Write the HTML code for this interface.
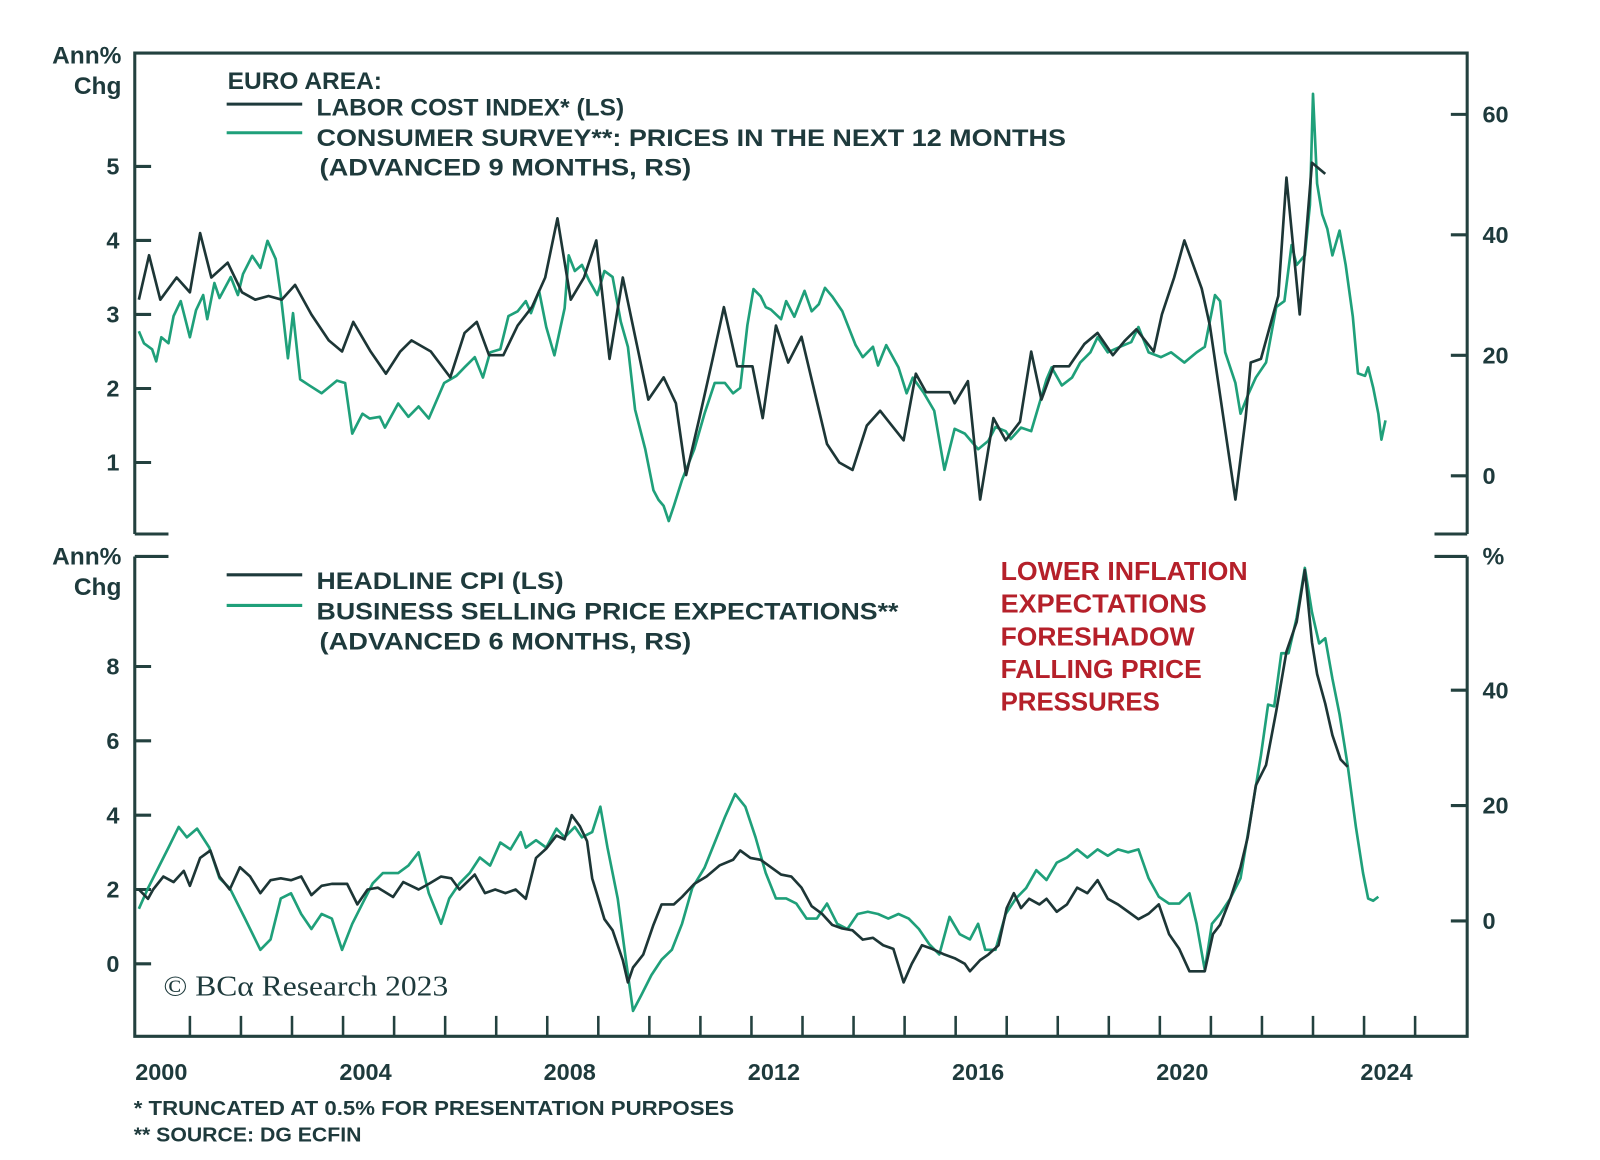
<!DOCTYPE html>
<html><head><meta charset="utf-8"><style>
html,body{margin:0;padding:0;background:#fff;}
svg{display:block;font-family:"Liberation Sans",sans-serif;}
.t{fill:#1e3a3c;font-weight:bold;}
</style></head><body>
<svg id="chart" width="1600" height="1160" viewBox="0 0 1600 1160" xmlns="http://www.w3.org/2000/svg">
<g transform="scale(1.021)">
<g id="frame" stroke="#23413f" stroke-width="3" fill="none">
 <path d="M132,523 L132,52 L1437,52 L1437,523"/>
 <path d="M132,523 L165,523 M1405,523 L1437,523"/>
 <path d="M132,545 L165,545 M1405,545 L1437,545"/>
 <path d="M132,545 L132,1015 L1437,1015 L1437,545"/>
</g>
<g id="axes"></g>
<g id="series"></g>
<g>
 <text class="t" x="223" y="87" font-size="24">EURO AREA:</text>
 <line x1="222" y1="102" x2="296" y2="102" stroke="#1e3a3c" stroke-width="3"/>
 <text class="t" x="310" y="113" font-size="24">LABOR COST INDEX* (LS)</text>
 <line x1="222" y1="130" x2="296" y2="130" stroke="#1fa07a" stroke-width="3"/>
 <text class="t" x="310" y="143" font-size="24" textLength="734" lengthAdjust="spacingAndGlyphs">CONSUMER SURVEY**: PRICES IN THE NEXT 12 MONTHS</text>
 <text class="t" x="313" y="172" font-size="24" textLength="364" lengthAdjust="spacingAndGlyphs">(ADVANCED 9 MONTHS, RS)</text>
</g>
<g>
 <line x1="222" y1="563" x2="296" y2="563" stroke="#1e3a3c" stroke-width="3"/>
 <text class="t" x="310" y="577" font-size="24" textLength="242" lengthAdjust="spacingAndGlyphs">HEADLINE CPI (LS)</text>
 <line x1="222" y1="593" x2="296" y2="593" stroke="#1fa07a" stroke-width="3"/>
 <text class="t" x="310" y="607" font-size="24" textLength="570" lengthAdjust="spacingAndGlyphs">BUSINESS SELLING PRICE EXPECTATIONS**</text>
 <text class="t" x="313" y="636" font-size="24" textLength="364" lengthAdjust="spacingAndGlyphs">(ADVANCED 6 MONTHS, RS)</text>
</g>
<g fill="#b5202a" font-size="25" font-weight="bold">
 <text x="980" y="568" textLength="242" lengthAdjust="spacingAndGlyphs">LOWER INFLATION</text>
 <text x="980" y="600" textLength="202" lengthAdjust="spacingAndGlyphs">EXPECTATIONS</text>
 <text x="980" y="632" textLength="190" lengthAdjust="spacingAndGlyphs">FORESHADOW</text>
 <text x="980" y="664" textLength="197" lengthAdjust="spacingAndGlyphs">FALLING PRICE</text>
 <text x="980" y="696" textLength="156" lengthAdjust="spacingAndGlyphs">PRESSURES</text>
</g>
<text x="160" y="975" font-family="Liberation Serif,serif" font-size="28" fill="#1e3a3c" textLength="279" lengthAdjust="spacingAndGlyphs">© BCα Research 2023</text>
<g class="t" font-size="24" text-anchor="end">
 <text x="119" y="62">Ann%</text>
 <text x="119" y="92">Chg</text>
 <text x="119" y="553">Ann%</text>
 <text x="119" y="583">Chg</text>
</g>
<text class="t" x="1452" y="553" font-size="24">%</text>
<g class="t" font-size="20">
 <text x="131" y="1092" textLength="588" lengthAdjust="spacingAndGlyphs">*  TRUNCATED AT 0.5% FOR PRESENTATION PURPOSES</text>
 <text x="131" y="1118" textLength="223" lengthAdjust="spacingAndGlyphs">** SOURCE: DG ECFIN</text>
</g>
</g>
</svg>
<script>
// ---- data (years are decimal, offset from 2000) ----
const lciYears=[0,.2,.42,.74,1,1.2,1.42,1.74,2.02,2.28,2.54,2.8,3.06,3.38,3.72,3.98,4.2,4.54,4.84,5.12,5.34,5.72,6.1,6.38,6.62,6.86,7.14,7.42,7.7,7.96,8.2,8.46,8.72,8.96,9.22,9.48,9.98,10.28,10.52,10.72,10.98,11.24,11.46,11.72,12.02,12.22,12.48,12.72,12.98,13.48,13.72,13.98,14.26,14.52,14.98,15.22,15.42,15.88,15.98,16.24,16.48,16.74,16.98,17.26,17.48,17.68,17.92,18.22,18.52,18.78,19.08,19.32,19.54,19.88,20.04,20.28,20.48,20.82,20.98,21.48,21.68,21.78,21.98,22.32,22.48,22.74,22.98,23.24];
const lciValues=[3.2,3.8,3.2,3.5,3.3,4.1,3.5,3.7,3.3,3.2,3.25,3.2,3.4,3.0,2.65,2.5,2.9,2.5,2.2,2.5,2.65,2.5,2.15,2.75,2.9,2.45,2.45,2.85,3.1,3.5,4.3,3.2,3.5,4.0,2.4,3.5,1.85,2.15,1.8,0.83,1.6,2.4,3.1,2.3,2.3,1.6,2.85,2.35,2.7,1.25,1.0,0.9,1.5,1.7,1.3,2.2,1.95,1.95,1.8,2.1,0.5,1.6,1.3,1.55,2.5,1.85,2.3,2.3,2.6,2.75,2.45,2.65,2.8,2.5,3.0,3.5,4.0,3.35,2.85,0.5,1.6,2.35,2.4,3.25,4.85,3.0,5.05,4.9];
const surveyYears=[0,.1,.26,.34,.44,.58,.68,.82,.94,1,1.12,1.26,1.34,1.48,1.58,1.8,1.94,2.04,2.22,2.38,2.52,2.68,2.78,2.92,3.02,3.16,3.34,3.58,3.88,4.04,4.18,4.38,4.52,4.72,4.82,5.08,5.28,5.48,5.68,5.98,6.22,6.38,6.58,6.74,6.88,7.08,7.24,7.42,7.58,7.68,7.84,7.98,8.14,8.34,8.42,8.54,8.68,8.82,8.98,9.12,9.28,9.44,9.58,9.72,9.92,10.08,10.18,10.28,10.38,10.48,10.64,10.88,11.08,11.28,11.48,11.64,11.78,11.92,12.04,12.18,12.28,12.38,12.58,12.68,12.84,13.04,13.18,13.32,13.44,13.58,13.78,14.04,14.18,14.38,14.48,14.64,14.88,15.04,15.16,15.38,15.58,15.78,15.98,16.18,16.44,16.64,16.78,16.98,17.08,17.28,17.48,17.64,17.78,17.88,18.08,18.28,18.44,18.64,18.78,18.98,19.22,19.44,19.58,19.78,20.02,20.22,20.48,20.72,20.88,21.08,21.18,21.28,21.48,21.58,21.74,21.88,22.08,22.28,22.44,22.58,22.68,22.84,22.94,23.0,23.08,23.18,23.28,23.38,23.52,23.64,23.78,23.88,24.02,24.08,24.18,24.28,24.34,24.42];
const surveyValues=[24,22,21,19,23,22,26.5,29,25,23,27.5,30,26,32,29.5,33,30,33.5,36.5,34.5,39,36,30,19.5,27,16,15,13.7,15.8,15.4,7,10.3,9.5,9.8,8,12,9.8,11.5,9.5,15.4,16.6,18,19.7,16.3,20.5,21,26.5,27.3,29,27,30.7,24.7,20,27.8,36.6,34,35,32.4,30,34,33,25.6,21.4,11,4.4,-2.4,-4,-5,-7.5,-5,-0.7,4.4,10.3,15.4,15.4,13.7,14.6,25,31,29.8,28,27.6,26,29,26.4,30.7,27.3,28.5,31.2,29.8,27.3,21.7,19.7,21.4,18.3,21.7,18,13.7,16.3,13.7,10.8,1,7.8,7,4.4,5.8,8.1,7.4,6.1,8,7.4,12,16,18,15,16.3,18.8,20.5,23,20.5,21.4,22.2,24.7,20.5,19.7,20.5,18.8,20.5,21.4,30,29,20.5,15.4,10.3,13.7,16.3,18.8,28,29,38.3,35,36.6,45,63.4,48.5,43.4,41,36.6,40.7,35,26.4,17,16.6,18,14.6,10.3,6,9.2];
const cpiYears=[0,.18,.28,.48,.68,.88,1,1.2,1.4,1.58,1.78,1.98,2.18,2.38,2.58,2.78,2.98,3.18,3.38,3.58,3.78,4.08,4.28,4.48,4.68,4.98,5.18,5.48,5.68,5.92,6.12,6.28,6.58,6.78,6.98,7.18,7.38,7.58,7.78,7.98,8.18,8.34,8.48,8.64,8.78,8.88,8.98,9.12,9.28,9.48,9.58,9.68,9.88,10.08,10.24,10.48,10.64,10.88,11.12,11.38,11.64,11.78,11.98,12.18,12.38,12.58,12.78,12.98,13.18,13.38,13.58,13.78,13.98,14.18,14.38,14.58,14.78,14.98,15.14,15.34,15.54,15.78,15.98,16.18,16.28,16.48,16.64,16.84,17.0,17.14,17.28,17.44,17.64,17.78,17.98,18.18,18.38,18.58,18.78,18.98,19.18,19.38,19.58,19.78,19.98,20.18,20.38,20.58,20.88,21.04,21.18,21.38,21.58,21.72,21.88,22.08,22.28,22.48,22.68,22.84,22.98,23.08,23.24,23.38,23.54,23.68];
const cpiValues=[2.0,1.75,2.0,2.35,2.2,2.5,2.1,2.85,3.05,2.35,2.0,2.6,2.35,1.9,2.25,2.3,2.25,2.35,1.85,2.1,2.15,2.15,1.6,2.0,2.05,1.8,2.2,2.0,2.15,2.35,2.3,2.0,2.4,1.9,2.0,1.9,2.0,1.75,2.85,3.1,3.45,3.35,4.0,3.7,3.3,2.3,1.85,1.2,0.9,0.1,-0.5,-0.1,0.25,1.05,1.6,1.6,1.8,2.15,2.35,2.65,2.8,3.05,2.85,2.8,2.6,2.4,2.35,2.05,1.55,1.35,1.05,0.95,0.9,0.65,0.7,0.5,0.4,-0.5,0,0.5,0.4,0.25,0.15,0,-0.2,0.1,0.25,0.5,1.5,1.9,1.5,1.75,1.6,1.75,1.4,1.6,2.05,1.9,2.25,1.75,1.6,1.4,1.2,1.35,1.6,0.8,0.4,-0.2,-0.2,0.8,1.05,1.75,2.6,3.4,4.8,5.35,6.8,8.4,9.2,10.6,8.65,7.8,7.0,6.15,5.5,5.3];
const bizYears=[0,.18,.38,.58,.78,.94,1.14,1.38,1.58,1.78,2.08,2.38,2.58,2.78,2.98,3.18,3.38,3.58,3.78,3.98,4.18,4.38,4.58,4.78,5.08,5.28,5.48,5.68,5.92,6.08,6.28,6.48,6.68,6.88,7.08,7.28,7.48,7.58,7.78,7.98,8.18,8.34,8.54,8.68,8.88,9.04,9.18,9.38,9.54,9.68,9.84,10.04,10.24,10.44,10.64,10.84,11.08,11.28,11.48,11.68,11.88,12.08,12.28,12.48,12.68,12.88,13.08,13.28,13.48,13.68,13.88,14.08,14.28,14.48,14.68,14.88,15.08,15.28,15.48,15.68,15.88,16.08,16.28,16.44,16.58,16.78,16.98,17.18,17.38,17.58,17.78,17.98,18.18,18.38,18.58,18.78,18.98,19.18,19.38,19.58,19.78,19.98,20.18,20.38,20.58,20.72,20.88,21.02,21.18,21.38,21.58,21.78,21.98,22.12,22.24,22.38,22.52,22.68,22.84,22.98,23.12,23.24,23.38,23.52,23.68,23.84,23.98,24.08,24.18,24.28];
const bizValues=[2.1,5.7,9.2,12.7,16.3,14.5,16,12.7,7.4,5.7,0.4,-5,-3.2,3.9,4.8,1.2,-1.4,1.2,0.4,-5,-0.5,3,6.5,8.3,8.3,9.6,11.9,4.8,-0.5,3.9,6.5,8.3,11,9.6,13.6,12.4,15.4,12.7,14,12.7,16,14.5,16.3,14.5,15.4,19.8,12.7,3.9,-6.7,-15.6,-12.9,-9.4,-6.7,-5,-0.5,5.7,9.2,13.6,18,22,19.8,14.5,8.3,3.9,3.9,3,0.4,0.4,3,-0.5,-1.4,1.2,1.6,1.2,0.4,1.2,0.4,-1.4,-4,-5.8,0.7,-2.3,-3.2,-0.5,-5,-5,1.2,3.9,5.7,8.8,7.1,10.1,11,12.4,11,12.4,11.3,12.4,11.9,12.4,7.4,4.2,3,3,4.8,-0.5,-8.5,-0.5,1.2,3.9,7.4,18,28.7,37.5,37.2,46.4,46.4,52.6,61.2,53.5,48.1,49,42,35.8,26.9,16.3,8.3,3.9,3.5,4.2];
const yearLabels=["2000","2004","2008","2012","2016","2020","2024"];
const topLeftTicks=[1,2,3,4,5];
const topRightTicks=[0,20,40,60];
const botLeftTicks=[0,2,4,6,8];
const botRightTicks=[0,20,40];

// ---- scales ----
const X0=136, PX_YEAR=50;
const xs=y=>X0+y*PX_YEAR;
const yTopL=v=>453-(v-1)*72.5;
const yTopR=v=>466-v*5.9;
const yBotL=v=>944-v*36.4;
const yBotR=v=>902-v*5.65;
const NS="http://www.w3.org/2000/svg";
const axes=document.getElementById('axes'), series=document.getElementById('series');
function mk(tag,attrs,parent){const e=document.createElementNS(NS,tag);for(const k in attrs)e.setAttribute(k,attrs[k]);parent.appendChild(e);return e;}

function yTicks(ticks,scale,side,name){
  ticks.forEach(t=>{
    const y=scale(t);
    const x1=side==='L'?132:1421, x2=side==='L'?148:1437;
    const l=mk('line',{x1:x1,x2:x2,y1:y,y2:y,stroke:'#23413f','stroke-width':3},axes);
    
    
    const tx=mk('text',{x:side==='L'?117:1452,y:y+8,'font-size':23,'font-weight':'bold',fill:'#1e3a3c','text-anchor':side==='L'?'end':'start'},axes);
    tx.textContent=String(t);
    
    
  });
}
yTicks(topLeftTicks,yTopL,'L','top-left-axis');
yTicks(topRightTicks,yTopR,'R','top-right-axis');
yTicks(botLeftTicks,yBotL,'L','bottom-left-axis');
yTicks(botRightTicks,yBotR,'R','bottom-right-axis');

for(let yr=1;yr<=25;yr++){
  const x=xs(yr);
  if(x>1430)break;
  const l=mk('line',{x1:x,x2:x,y1:995,y2:1015,stroke:'#23413f','stroke-width':2.5},axes);
  
  
}
yearLabels.forEach(lab=>{
  const t=mk('text',{x:xs(+lab-2000)+22,y:1058,'font-size':23,'font-weight':'bold',fill:'#1e3a3c','text-anchor':'middle'},axes);
  t.textContent=lab;
  
  
});

function line(years,vals,scale,color,w,name){
  const n=Math.min(years.length,vals.length);
  let d='';
  for(let i=0;i<n;i++)d+=(i?'L':'M')+xs(years[i]).toFixed(1)+','+scale(vals[i]).toFixed(1);
  const p=mk('path',{d:d,fill:'none',stroke:color,'stroke-width':w,'stroke-linejoin':'round'},series);
  
  
}
line(surveyYears,surveyValues,yTopR,'#1fa07a',2.6,'consumer-survey-line');
line(lciYears,lciValues,yTopL,'#1d3636',2.6,'labor-cost-index-line');
line(bizYears,bizValues,yBotR,'#1fa07a',2.6,'business-price-expectations-line');
line(cpiYears,cpiValues,yBotL,'#1d3636',2.6,'headline-cpi-line');
</script>
</body></html>
